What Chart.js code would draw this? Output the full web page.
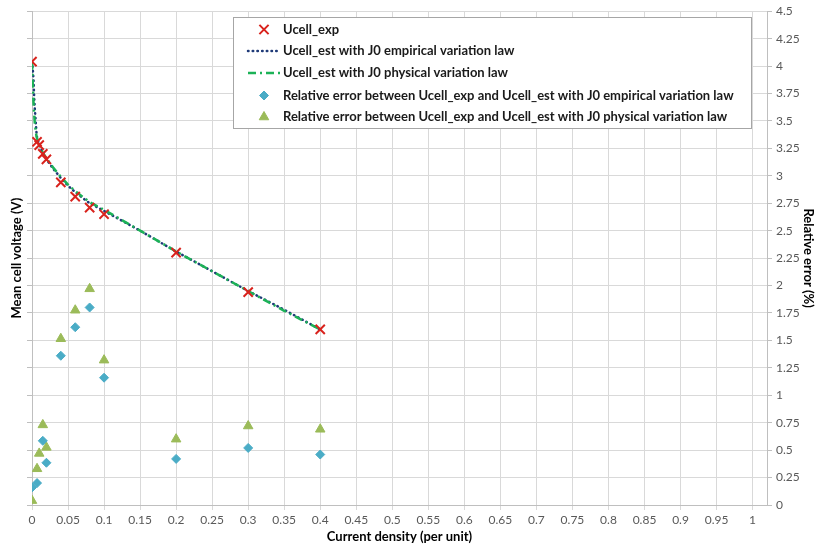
<!DOCTYPE html>
<html>
<head>
<meta charset="utf-8">
<script src="https://cdn.jsdelivr.net/npm/chart.js@4/dist/chart.umd.min.js"></script>
<style>
  html, body { margin: 0; padding: 0; background: #ffffff; }
  #wrap { position: relative; width: 818px; height: 546px; }
</style>
</head>
<body>
<div id="wrap"><canvas id="c" width="818" height="546"></canvas></div>
<script>
// ---- data ----
const expX = [0, 0.007, 0.01, 0.015, 0.02, 0.04, 0.06, 0.08, 0.1, 0.2, 0.3, 0.4];
const ucellExp = [4.04, 3.31, 3.28, 3.20, 3.15, 2.94, 2.81, 2.71, 2.65, 2.30, 1.94, 1.60];
const errEmpirical = [0.16, 0.20, null, 0.585, 0.385, 1.36, 1.62, 1.80, 1.16, 0.42, 0.52, 0.46];
const errPhysical = [0.04, 0.33, 0.47, 0.73, 0.525, 1.515, 1.775, 1.97, 1.32, 0.60, 0.72, 0.69];

const modelX = [0, 0.001, 0.002, 0.003, 0.004, 0.005, 0.006, 0.007, 0.01, 0.015, 0.02, 0.03, 0.04, 0.05, 0.06, 0.08, 0.1, 0.15, 0.2, 0.25, 0.3, 0.35, 0.4];
const ucellEstEmpirical = [4.04, 3.98, 3.89, 3.72, 3.60, 3.51, 3.41, 3.35, 3.28, 3.21, 3.15, 3.06, 2.98, 2.91, 2.85, 2.75, 2.68, 2.50, 2.31, 2.13, 1.95, 1.78, 1.60];
const ucellEstPhysical  = [4.04, 3.85, 3.68, 3.56, 3.47, 3.42, 3.37, 3.34, 3.28, 3.21, 3.16, 3.07, 2.99, 2.92, 2.86, 2.76, 2.69, 2.50, 2.31, 2.13, 1.95, 1.77, 1.60];

const seriesNames = [
  'Ucell_exp',
  'Ucell_est with J0 empirical variation law',
  'Ucell_est with J0 physical variation law',
  'Relative error between Ucell_exp and Ucell_est with J0 empirical variation law',
  'Relative error between Ucell_exp and Ucell_est with J0 physical variation law'
];
const xTitle = 'Current density (per unit)';
const yTitle = 'Mean cell voltage (V)';
const y2Title = 'Relative error (%)';

// ---- helpers ----
const pts = (xs, ys) => xs.map((x, i) => ({x: x, y: ys[i]}));
const FONT = 'Lato, "Open Sans", "Liberation Sans", sans-serif';
const GRID = '#d9d9d9';
const AXIS = '#bfbfbf';
const fmt = v => String(parseFloat(Number(v).toFixed(2)));

const legendPlugin = {
  id: 'boxLegend',
  afterDraw(chart) {
    const ctx = chart.ctx;
    const bx = 233.5, by = 17.5, bw = 518, bh = 111;
    ctx.save();
    ctx.fillStyle = '#ffffff';
    ctx.fillRect(bx, by, bw, bh);
    ctx.strokeStyle = '#a6a6a6';
    ctx.lineWidth = 1;
    ctx.strokeRect(bx, by, bw, bh);
    ctx.restore();
    const rows = [29.5, 51, 73, 95.5, 117];
    const mx = 264, textX = 283;
    chart.data.datasets.forEach((ds, i) => {
      const y = rows[i];
      ctx.save();
      if (ds.showLine) {
        ctx.strokeStyle = ds.borderColor;
        ctx.lineWidth = ds.borderWidth;
        ctx.setLineDash(ds.borderDash || []);
        ctx.lineCap = ds.borderCapStyle || 'butt';
        ctx.beginPath();
        ctx.moveTo(248, y);
        ctx.lineTo(280, y);
        ctx.stroke();
      } else {
        ctx.fillStyle = ds.backgroundColor;
        ctx.strokeStyle = ds.borderColor;
        ctx.lineWidth = ds.borderWidth;
        Chart.helpers.drawPoint(ctx, {
          pointStyle: ds.pointStyle,
          radius: ds.pointRadius,
          borderWidth: ds.borderWidth,
          rotation: 0
        }, mx, y);
      }
      ctx.restore();
      ctx.save();
      ctx.font = 'bold 13px ' + FONT;
      ctx.textBaseline = 'middle';
      ctx.textAlign = 'left';
      ctx.fillStyle = '#1a1a1a';
      ctx.fillText(ds.label, textX, y);
      ctx.restore();
    });
  }
};

new Chart(document.getElementById('c'), {
  type: 'scatter',
  data: {
    datasets: [
      {
        label: seriesNames[0],
        data: pts(expX, ucellExp),
        yAxisID: 'y',
        showLine: false,
        pointStyle: 'crossRot',
        pointRadius: 6.5,
        borderWidth: 2,
        borderColor: '#d9231d',
        backgroundColor: '#d9231d',
        order: 0
      },
      {
        label: seriesNames[1],
        data: pts(modelX, ucellEstEmpirical),
        yAxisID: 'y',
        showLine: true,
        pointRadius: 0,
        borderWidth: 2.5,
        borderDash: [0.5, 4.2],
        borderCapStyle: 'round',
        borderColor: '#1f3a78',
        backgroundColor: '#1f3a78',
        tension: 0,
        order: 3
      },
      {
        label: seriesNames[2],
        data: pts(modelX, ucellEstPhysical),
        yAxisID: 'y',
        showLine: true,
        pointRadius: 0,
        borderWidth: 2.5,
        borderDash: [8, 4, 2, 4],
        borderCapStyle: 'butt',
        borderColor: '#1cb257',
        backgroundColor: '#1cb257',
        tension: 0,
        order: 2
      },
      {
        label: seriesNames[3],
        data: pts(expX, errEmpirical),
        yAxisID: 'y2',
        showLine: false,
        pointStyle: 'rectRot',
        pointRadius: 4.5,
        borderWidth: 1,
        borderColor: '#4aacc6',
        backgroundColor: '#4aacc6',
        order: 1
      },
      {
        label: seriesNames[4],
        data: pts(expX, errPhysical),
        yAxisID: 'y2',
        showLine: false,
        pointStyle: 'triangle',
        pointRadius: 5.5,
        borderWidth: 1,
        borderColor: '#9bbb59',
        backgroundColor: '#9bbb59',
        order: 1
      }
    ]
  },
  options: {
    responsive: false,
    animation: false,
    events: [],
    layout: { padding: { top: 11, left: 0, right: 0, bottom: 0 } },
    plugins: {
      legend: { display: false },
      tooltip: { enabled: false }
    },
    scales: {
      x: {
        type: 'linear',
        position: 'bottom',
        min: 0,
        max: 1.02,
        afterFit(s) { s.height = 41; },
        ticks: {
          stepSize: 0.05,
          includeBounds: false,
          autoSkip: false,
          maxRotation: 0,
          padding: 3,
          color: '#595959',
          font: { family: FONT, size: 12 },
          callback: v => fmt(v)
        },
        grid: { color: GRID, lineWidth: 1, tickLength: 5, drawTicks: true, tickColor: GRID },
        border: { display: true, color: AXIS },
        title: {
          display: true,
          text: xTitle,
          color: '#000000',
          font: { family: FONT, size: 13, weight: 'bold' },
          padding: { top: 0, bottom: 1 }
        }
      },
      y: {
        type: 'linear',
        position: 'left',
        min: 0,
        max: 4.5,
        afterFit(s) { s.width = 32; },
        ticks: { stepSize: 0.25, display: false },
        grid: { color: GRID, lineWidth: 1, tickLength: 5, drawTicks: true, tickColor: AXIS },
        border: { display: true, color: AXIS },
        title: {
          display: true,
          text: yTitle,
          color: '#000000',
          font: { family: FONT, size: 13, weight: 'bold' },
          padding: { top: 9, bottom: 0 }
        }
      },
      y2: {
        type: 'linear',
        position: 'right',
        min: 0,
        max: 4.5,
        afterFit(s) { s.width = 51; },
        ticks: {
          stepSize: 0.25,
          padding: 4,
          color: '#595959',
          font: { family: FONT, size: 12 },
          callback: v => fmt(v)
        },
        grid: { drawOnChartArea: false, tickLength: 5, drawTicks: true, tickColor: AXIS },
        border: { display: true, color: AXIS },
        title: {
          display: true,
          text: y2Title,
          color: '#000000',
          font: { family: FONT, size: 13, weight: 'bold' },
          padding: { top: 2, bottom: 0 }
        }
      }
    }
  },
  plugins: [legendPlugin]
});
</script>
</body>
</html>
